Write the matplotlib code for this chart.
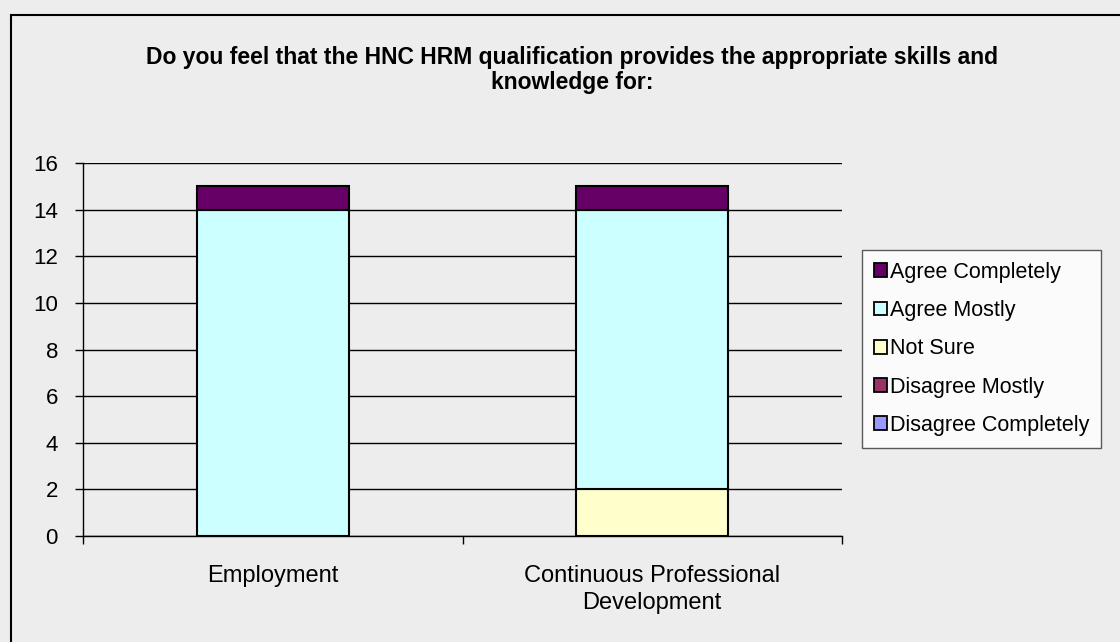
import numpy as np
import matplotlib
matplotlib.use("Agg")
import matplotlib.pyplot as plt
from matplotlib.patches import Rectangle

# data
categories = ["Employment", "Continuous Professional\nDevelopment"]
series_names = ["Disagree Completely", "Disagree Mostly", "Not Sure",
                "Agree Mostly", "Agree Completely"]
disagree_completely = [0, 0]
disagree_mostly = [0, 0]
not_sure = [0, 2]
agree_mostly = [14, 12]
agree_completely = [1, 1]
series_values = [disagree_completely, disagree_mostly, not_sure,
                 agree_mostly, agree_completely]
series_colors = ["#9999FF", "#993366", "#FFFFCC", "#CCFFFF", "#660066"]

bg = "#EDEDED"
plt.rcParams['font.family'] = ['Liberation Sans', 'DejaVu Sans']

fig = plt.figure(figsize=(11.2, 6.42), dpi=100, facecolor=bg)
# outer chart border (only left/top visible in the reference crop)
fig.patches.append(Rectangle((11 / 1120, -0.01), 1.2, 1 - 15 / 642 + 0.01,
                             transform=fig.transFigure, fill=False,
                             edgecolor="black", linewidth=1.5))

ax = fig.add_axes([83 / 1120, 1 - 536 / 642, (842 - 83) / 1120, (536 - 163) / 642])
ax.set_facecolor(bg)

x = np.arange(len(categories))
bottom = np.zeros(len(categories))
handles = {}
for name, vals, col in zip(series_names, series_values, series_colors):
    vals = np.array(vals, dtype=float)
    bars = ax.bar(x, vals, width=0.4, bottom=bottom, color=col,
                  edgecolor="black", linewidth=1.5, zorder=3, label=name)
    for b, v in zip(bars, vals):
        if v == 0:
            b.set_visible(False)
    handles[name] = Rectangle((0, 0), 1, 1, facecolor=col, edgecolor="black", linewidth=1.3)
    bottom += vals

ax.set_ylim(0, 16)
ax.set_yticks(np.arange(0, 17, 2))
ax.set_xlim(-0.5, 1.5)
ax.set_xticks([-0.5, 0.5, 1.5])
ax.set_xticklabels([])
ax.set_xticks(x, minor=True)
ax.set_xticklabels(categories, minor=True, fontsize=17, linespacing=1.27)
ax.tick_params(axis="x", which="minor", length=0, pad=21)
ax.tick_params(axis="x", which="major", length=6, direction="out", width=1)
ax.tick_params(axis="y", length=6, direction="out", width=1, labelsize=16, pad=12)
ax.grid(axis="y", color="black", linewidth=1, zorder=0)
ax.set_axisbelow(True)
for s in ["top", "right"]:
    ax.spines[s].set_visible(False)
ax.spines["left"].set_linewidth(1)
ax.spines["bottom"].set_linewidth(1)

fig.text(0.511, 1 - 70 / 642,
         "Do you feel that the HNC HRM qualification provides the appropriate skills and\nknowledge for:",
         ha="center", va="center", fontsize=16.5, fontweight="bold",
         linespacing=1.13)

order = ["Agree Completely", "Agree Mostly", "Not Sure",
         "Disagree Mostly", "Disagree Completely"]
leg = fig.legend([handles[n] for n in order], order,
                 loc="upper left", bbox_to_anchor=(862 / 1120, 1 - 250 / 642),
                 frameon=True, fancybox=False, fontsize=15.5,
                 handlelength=0.6, handleheight=0.6, handletextpad=0.15,
                 labelspacing=0.8, borderpad=0.55, borderaxespad=0)
leg.get_frame().set_edgecolor("#333333")
leg.get_frame().set_facecolor("white")
leg.get_frame().set_linewidth(1)

fig.savefig("out.png", dpi=100, facecolor=bg)
